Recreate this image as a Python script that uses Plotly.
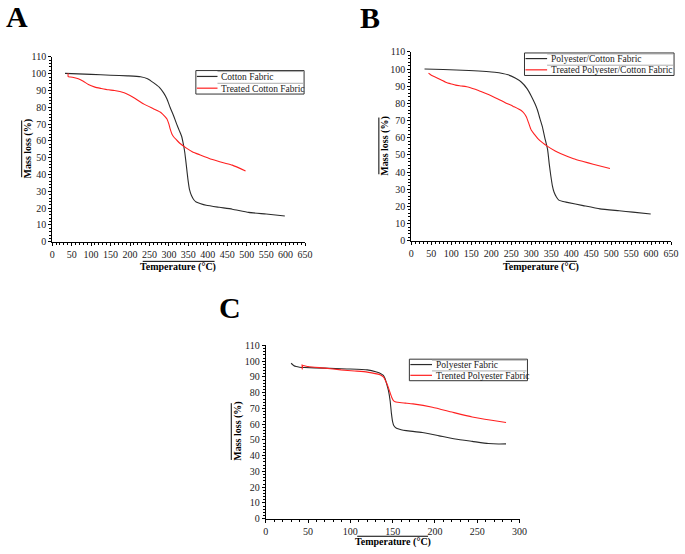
import plotly.graph_objects as go

W, H = 685, 554

# ---------------- data ----------------
# Panel A
a_cotton_t = [33, 100, 150, 194, 227, 245, 261, 275, 286, 295, 303, 312, 320, 327, 333, 338, 341, 345, 349, 353, 358, 364, 370, 380, 396, 430, 463, 505, 550, 598]
a_cotton_m = [100.2, 99.6, 99.1, 98.7, 98.2, 97.0, 94.5, 92.0, 88.7, 85.0, 80.0, 75.0, 70.0, 66.0, 62.5, 57.0, 52.8, 45.0, 37.0, 31.0, 27.5, 25.0, 23.7, 22.8, 21.7, 20.5, 19.4, 17.5, 16.5, 15.3]
a_treat_t = [41, 41, 47, 55, 67, 80, 93, 110, 126, 145, 160, 185, 200, 210, 236, 261, 280, 290, 295, 300, 303, 308, 312, 320, 328, 345, 360, 379, 412, 440, 463, 497]
a_treat_m = [100.3, 98.2, 98.0, 97.7, 97.0, 95.5, 93.5, 92.0, 91.2, 90.4, 90.0, 88.6, 87.0, 85.7, 81.9, 79.0, 76.8, 74.5, 73.1, 70.0, 67.3, 64.0, 62.5, 60.5, 58.6, 55.7, 53.6, 51.8, 48.9, 47.0, 45.6, 42.1]

# Panel B
b_pc_t = [33, 80, 144, 209, 242, 260, 275, 290, 300, 310, 316, 322, 328, 334, 341, 345, 349, 353, 357, 363, 369, 380, 390, 430, 472, 520, 554, 599]
b_pc_m = [100.1, 99.8, 99.2, 98.2, 96.7, 94.8, 92.5, 88.5, 84.4, 79.5, 75.9, 71.0, 66.4, 60.0, 53.1, 45.0, 37.9, 32.0, 28.4, 25.5, 23.7, 22.9, 22.4, 20.5, 18.6, 17.5, 16.7, 15.6]
b_treat_t = [43, 50, 62, 75, 86, 100, 111, 125, 144, 168, 185, 201, 218, 234, 255, 275, 283, 288, 293, 300, 308, 316, 328, 341, 360, 373, 406, 430, 455, 497]
b_treat_m = [97.7, 96.5, 95.2, 93.7, 92.4, 91.4, 90.7, 90.2, 89.5, 87.6, 86.0, 84.4, 82.5, 80.6, 78.3, 75.9, 74.0, 72.1, 69.0, 64.5, 62.0, 59.7, 57.2, 55.0, 52.3, 50.8, 47.8, 46.2, 44.6, 42.1]

# Panel C
c_pe_t = [30, 33, 36, 40, 46, 69, 96, 120, 131, 136, 139, 141, 143, 145, 147, 148.6, 150, 151.5, 154.5, 160, 166, 185, 205, 224, 244, 263, 275, 284]
c_pe_m = [98.7, 97.3, 96.6, 96.2, 96.0, 95.6, 95.1, 94.5, 93.1, 92.1, 91.0, 89.0, 85.5, 81.5, 75.0, 66.7, 61.5, 59.0, 57.4, 56.5, 55.9, 54.7, 52.6, 50.6, 49.1, 47.7, 47.4, 47.5]
c_treat_t = [43, 43, 44, 50, 70, 89, 105, 120, 135, 139, 141, 143, 145, 147, 149, 151, 153, 156, 165, 174, 197, 220, 244, 267, 284]
c_treat_m = [98.0, 95.0, 97.2, 96.6, 95.6, 94.5, 93.8, 93.1, 91.4, 90.0, 88.3, 86.0, 83.2, 80.0, 77.0, 75.0, 74.2, 73.9, 73.4, 72.9, 70.8, 67.7, 64.6, 62.5, 61.1]

x_ticks_ab = list(range(0, 651, 50))
x_ticks_c = list(range(0, 301, 50))
y_ticks = list(range(0, 111, 10))

legend_a = ["Cotton Fabric", "Treated Cotton Fabric"]
legend_b = ["Polyester/Cotton Fabric", "Treated Polyester/Cotton Fabric"]
legend_c = ["Polyester Fabric", "Trented Polyester Fabric"]

# ---------------- figure ----------------
BLACK = "#2b2b2b"
RED = "#ff2020"
FONT = "Liberation Serif, Times New Roman, serif"


def px_x(p):
    return p / W


def px_y(p):
    return 1 - p / H


fig = go.Figure()
annotations = []
shapes = []

panels = [
    ("x", "y", [(a_cotton_t, a_cotton_m, BLACK), (a_treat_t, a_treat_m, RED)], legend_a,
     [0, 650], x_ticks_ab, (50, 307), (52, 241), (196, 306, 66, 90, 218)),
    ("x2", "y2", [(b_pc_t, b_pc_m, BLACK), (b_treat_t, b_treat_m, RED)], legend_b,
     [0, 650], x_ticks_ab, (415, 679), (47, 240), (530, 682, 48, 71, 553)),
    ("x3", "y3", [(c_pe_t, c_pe_m, BLACK), (c_treat_t, c_treat_m, RED)], legend_c,
     [0, 300], x_ticks_c, (267, 525), (347, 524), (413, 533, 361, 383, 436)),
]

for xa, ya, series, names, xr, xt, (x0, x1), (y0, y1), (bx0, bx1, by0, by1, sx) in panels:
    for (t, m, col), name in zip(series, names):
        fig.add_trace(go.Scatter(x=t, y=m, mode="lines", name=name, xaxis=xa, yaxis=ya,
                                 showlegend=False, hoverinfo="skip",
                                 line=dict(color=col, width=1.1, shape="spline", smoothing=0.5)))
    xkey = "xaxis" if xa == "x" else "xaxis" + xa[1:]
    ykey = "yaxis" if ya == "y" else "yaxis" + ya[1:]
    common = dict(showgrid=False, zeroline=False, showline=True, linecolor="black", linewidth=1,
                  ticks="outside", ticklen=3, tickwidth=1, tickcolor="black",
                  tickfont=dict(family=FONT, size=10, color="#222"))
    fig.update_layout(**{
        xkey: dict(domain=[px_x(x0), px_x(x1)], range=xr, tickvals=xt, anchor=ya,
                   minor=dict(dtick=10, ticks="outside", ticklen=2, tickcolor="black"), **common),
        ykey: dict(domain=[px_y(y1), px_y(y0)], range=[0, 110], tickvals=y_ticks, anchor=xa,
                   minor=dict(dtick=2, ticks="outside", ticklen=2, tickcolor="black"), **common),
    })

    # legend box (drawn manually for compact rows)
    shapes.append(dict(type="rect", xref="paper", yref="paper", x0=px_x(bx0), x1=px_x(bx1),
                       y0=px_y(by1), y1=px_y(by0), line=dict(color="#333", width=1), fillcolor="white"))
    row_h = (by1 - by0) / 2.0
    for i, ((t, m, col), name) in enumerate(zip(series, names)):
        cy = by0 + row_h * (i + 0.5)
        shapes.append(dict(type="line", xref="paper", yref="paper", x0=px_x(bx0 + 1), x1=px_x(sx),
                           y0=px_y(cy), y1=px_y(cy), line=dict(color=col, width=1.2)))
        shapes.append(dict(type="line", xref="paper", yref="paper", x0=px_x(sx), x1=px_x(bx1 - 1),
                           y0=px_y(cy - row_h / 2 + 1), y1=px_y(cy - row_h / 2 + 1),
                           line=dict(color="#999", width=0.8)))
        annotations.append(dict(text=name, x=px_x(sx + 2), y=px_y(cy + 0.5), xref="paper", yref="paper",
                                showarrow=False, xanchor="left", yanchor="middle",
                                font=dict(family=FONT, size=9.5, color="#222")))

# Panel letters
for letter, (cx, cy) in [("A", (14, 11)), ("B", (373, 12)), ("C", (231, 308))]:
    annotations.append(dict(text="<b>%s</b>" % letter, x=px_x(cx), y=px_y(cy), xref="paper", yref="paper",
                            showarrow=False, xanchor="center", yanchor="middle",
                            font=dict(family=FONT, size=30, color="black")))

# Axis titles with overlines
xtitles = [(178, 267, 142, 215), (547, 267, 511, 583), (396, 548, 360, 432)]
for cx, cy, lx0, lx1 in xtitles:
    annotations.append(dict(text="<b>Temperature (°C)</b>", x=px_x(cx), y=px_y(cy), xref="paper", yref="paper",
                            showarrow=False, xanchor="center", yanchor="middle",
                            font=dict(family=FONT, size=10, color="black")))
    shapes.append(dict(type="line", xref="paper", yref="paper", x0=px_x(lx0), x1=px_x(lx1),
                       y0=px_y(cy - 6), y1=px_y(cy - 6), line=dict(color="black", width=1)))

ytitles = [(25, 146), (388, 143), (238, 435)]
for cx, cy in ytitles:
    annotations.append(dict(text="<b>Mass loss (%)</b>", x=px_x(cx), y=px_y(cy), xref="paper", yref="paper",
                            showarrow=False, xanchor="center", yanchor="middle", textangle=-90,
                            font=dict(family=FONT, size=10, color="black")))
    shapes.append(dict(type="line", xref="paper", yref="paper", x0=px_x(cx - 6), x1=px_x(cx - 6),
                       y0=px_y(cy - 29), y1=px_y(cy + 29), line=dict(color="black", width=1)))

fig.update_layout(width=W, height=H, margin=dict(l=0, r=0, t=0, b=0), autosize=False,
                  paper_bgcolor="white", plot_bgcolor="white", hovermode=False,
                  annotations=annotations, shapes=shapes, showlegend=False)

fig.write_html("out.html", config={"responsive": False, "displayModeBar": False},
               post_script="document.body.style.margin='0';document.body.style.overflow='hidden';")
